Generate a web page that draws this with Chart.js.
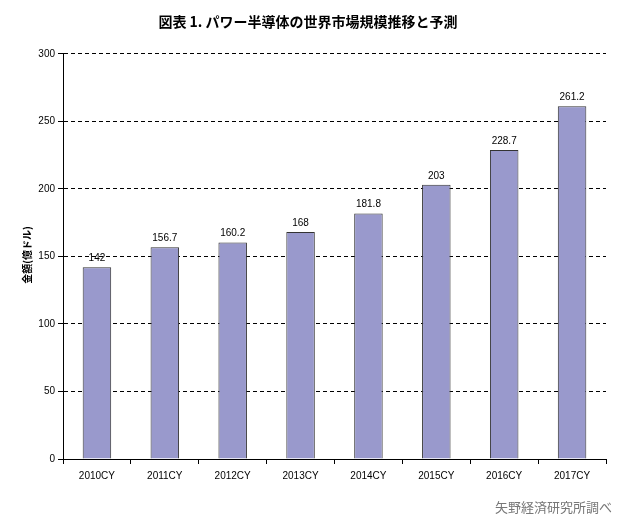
<!DOCTYPE html>
<html>
<head>
<meta charset="utf-8">
<script src="https://cdn.jsdelivr.net/npm/chart.js@4/dist/chart.umd.min.js"></script>
<style>
  body { margin: 0; background: #fff; }
  #wrap { width: 626px; height: 521px; }
</style>
</head>
<body>
<div id="wrap"><canvas id="c"></canvas></div>
<script>
const years = ['2010CY', '2011CY', '2012CY', '2013CY', '2014CY', '2015CY', '2016CY', '2017CY'];
const marketSize = [142, 156.7, 160.2, 168, 181.8, 203, 228.7, 261.2];
const valueLabels = ['142', '156.7', '160.2', '168', '181.8', '203', '228.7', '261.2'];

const extraText = {
    id: 'extraText',
    afterDatasetsDraw(chart) {
        const ctx = chart.ctx;
        const meta = chart.getDatasetMeta(0);
        const area = chart.chartArea;
        // solid y axis line
        ctx.save();
        ctx.strokeStyle = '#000';
        ctx.lineWidth = 1;
        ctx.beginPath();
        ctx.moveTo(area.left + 0.5, area.top);
        ctx.lineTo(area.left + 0.5, area.bottom);
        ctx.stroke();
        ctx.restore();

        ctx.save();
        ctx.fillStyle = '#000';
        ctx.font = '10px "Liberation Sans", sans-serif';
        ctx.textAlign = 'center';
        ctx.textBaseline = 'bottom';
        meta.data.forEach((bar, i) => {
            ctx.fillText(valueLabels[i], bar.x, bar.y - 4);
        });
        // y axis title
        ctx.translate(27, 255);
        ctx.rotate(-Math.PI / 2);
        ctx.font = 'bold 10px "Noto Sans CJK JP", sans-serif';
        ctx.textBaseline = 'middle';
        ctx.fillText('金額(億ドル)', 0, 0);
        ctx.restore();
        // source note
        ctx.save();
        ctx.fillStyle = '#777';
        ctx.font = '13px "Noto Sans CJK JP", sans-serif';
        ctx.textAlign = 'right';
        ctx.fillText('矢野経済研究所調べ', 612, 512);
        ctx.restore();
    }
};

new Chart(document.getElementById('c'), {
    type: 'bar',
    data: {
        labels: years,
        datasets: [{
            data: marketSize,
            backgroundColor: '#9999cc',
            borderColor: '#333',
            borderWidth: 1,
            categoryPercentage: 1,
            barPercentage: 0.42
        }]
    },
    options: {
        responsive: true,
        maintainAspectRatio: false,
        animation: false,
        layout: { padding: { top: 0, right: 20, bottom: 33, left: 10 } },
        plugins: {
            legend: { display: false },
            tooltip: { enabled: false },
            title: {
                display: true,
                text: '図表 1. パワー半導体の世界市場規模推移と予測',
                color: '#000',
                font: { family: '"Noto Sans CJK JP", sans-serif', size: 14, weight: 'bold' },
                padding: { top: 13, bottom: 24 }
            }
        },
        scales: {
            x: {
                grid: { display: true, drawOnChartArea: false, offset: true, color: '#000', tickLength: 5 },
                border: { color: '#000' },
                ticks: { color: '#000', font: { family: '"Liberation Sans", sans-serif', size: 10 }, padding: 6 }
            },
            y: {
                min: 0,
                max: 300,
                afterFit(scale) { scale.width = 53; },
                ticks: { stepSize: 50, color: '#000', font: { family: '"Liberation Sans", sans-serif', size: 10 } },
                border: { color: '#000', dash: [4, 3] },
                grid: {
                    color: '#000',
                    tickColor: '#000',
                    tickLength: 5
                }
            }
        }
    },
    plugins: [extraText]
});
</script>
</body>
</html>
